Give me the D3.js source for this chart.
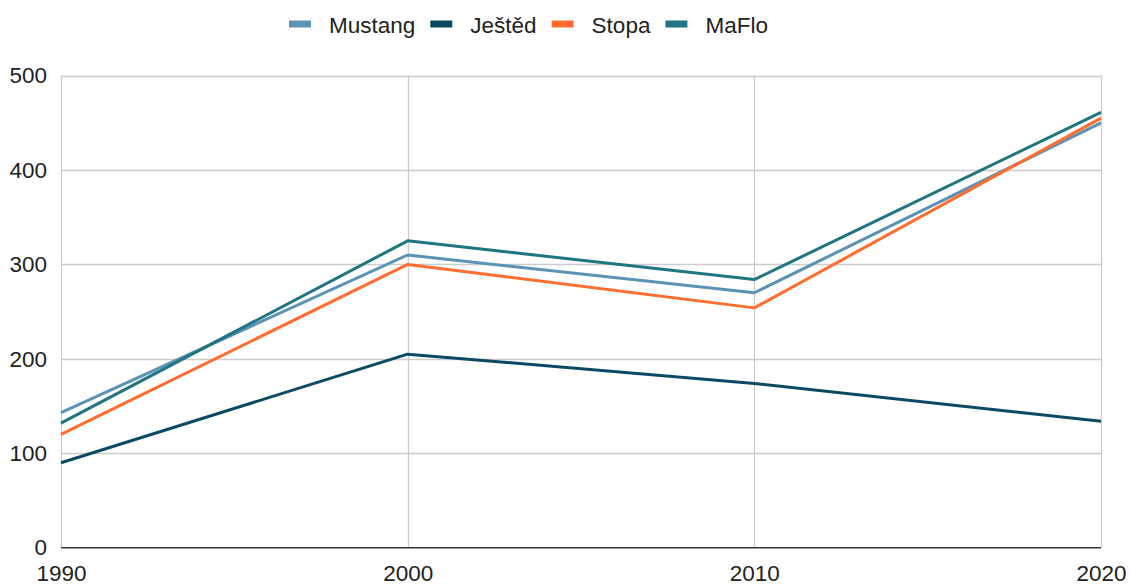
<!DOCTYPE html>
<html>
<head>
<meta charset="utf-8">
<script src="https://cdn.jsdelivr.net/npm/d3@7"></script>
<style>
  html, body { margin: 0; padding: 0; background: #fff; }
  svg { display: block; font-family: Arial, "Liberation Sans", sans-serif; }
</style>
</head>
<body>
<svg id="chart" width="1130" height="586"></svg>
<script>
const years = [1990, 2000, 2010, 2020];
const seriesNames = ["Mustang", "Ještěd", "Stopa", "MaFlo"];
const mustang = [143, 310, 270, 450];
const jested = [90, 205, 174, 134];
const stopa = [120, 300, 254, 455];
const maflo = [132, 325, 284, 461];
const yTicks = [0, 100, 200, 300, 400, 500];
const xTickLabels = ["1990", "2000", "2010", "2020"];
const colors = ["#5b93b5", "#0c4a63", "#ff6d31", "#1f7581"];

const seriesValues = [mustang, jested, stopa, maflo];

const svg = d3.select("#chart");
const plotLeft = 61, plotRight = 1101, plotTop = 75.6, plotBottom = 547.7;

const x = d3.scaleLinear().domain([1990, 2020]).range([plotLeft, plotRight]);
const y = d3.scaleLinear().domain([0, 500]).range([plotBottom, plotTop]);

const fontSize = 22.5;
const textColor = "#222";

// horizontal gridlines
svg.append("g")
  .selectAll("line")
  .data(yTicks.filter(d => d !== 0))
  .join("line")
  .attr("x1", plotLeft).attr("x2", plotRight)
  .attr("y1", d => Math.round(y(d)) + 0.5).attr("y2", d => Math.round(y(d)) + 0.5)
  .attr("stroke", "#cccccc").attr("stroke-width", 1.3);

// vertical gridlines
svg.append("g")
  .selectAll("line")
  .data(years)
  .join("line")
  .attr("x1", d => Math.round(x(d)) + 0.5).attr("x2", d => Math.round(x(d)) + 0.5)
  .attr("y1", plotTop).attr("y2", plotBottom)
  .attr("stroke", "#cccccc").attr("stroke-width", 1.3);

// y axis labels
const yAxis = d3.axisLeft(y).tickValues(yTicks).tickSize(0).tickPadding(14);
const gy = svg.append("g").attr("transform", `translate(${plotLeft},0)`).call(yAxis);
gy.select(".domain").remove();
gy.selectAll("text").attr("font-size", fontSize).attr("fill", textColor)
  .attr("font-family", "Arial, 'Liberation Sans', sans-serif");

// x axis labels
const xAxis = d3.axisBottom(x).tickValues(years).tickFormat((d, i) => xTickLabels[i]).tickSize(0).tickPadding(17);
const gx = svg.append("g").attr("transform", `translate(0,${plotBottom})`).call(xAxis);
gx.select(".domain").remove();
gx.selectAll("text").attr("font-size", fontSize).attr("fill", textColor)
  .attr("font-family", "Arial, 'Liberation Sans', sans-serif");

// lines
const line = d3.line().x((d, i) => x(years[i])).y(d => y(d));
svg.append("g")
  .selectAll("path")
  .data(seriesValues)
  .join("path")
  .attr("d", d => line(d))
  .attr("fill", "none")
  .attr("stroke", (d, i) => colors[i])
  .attr("stroke-width", 3)
  .attr("stroke-linejoin", "round");

// baseline
svg.append("line")
  .attr("x1", plotLeft).attr("x2", plotRight)
  .attr("y1", plotBottom).attr("y2", plotBottom)
  .attr("stroke", "#333").attr("stroke-width", 1.5);

// legend
const legend = svg.append("g");
let lx = 289;
const ly = 24;
seriesNames.forEach((name, i) => {
  legend.append("rect")
    .attr("x", lx).attr("y", ly - 3.5).attr("width", 22).attr("height", 7)
    .attr("fill", colors[i]);
  const t = legend.append("text")
    .attr("x", lx + 40).attr("y", ly + 8.5)
    .attr("font-size", fontSize).attr("fill", textColor)
    .text(name);
  const w = t.node().getComputedTextLength();
  lx = lx + 40 + w + 15;
});
</script>
</body>
</html>
